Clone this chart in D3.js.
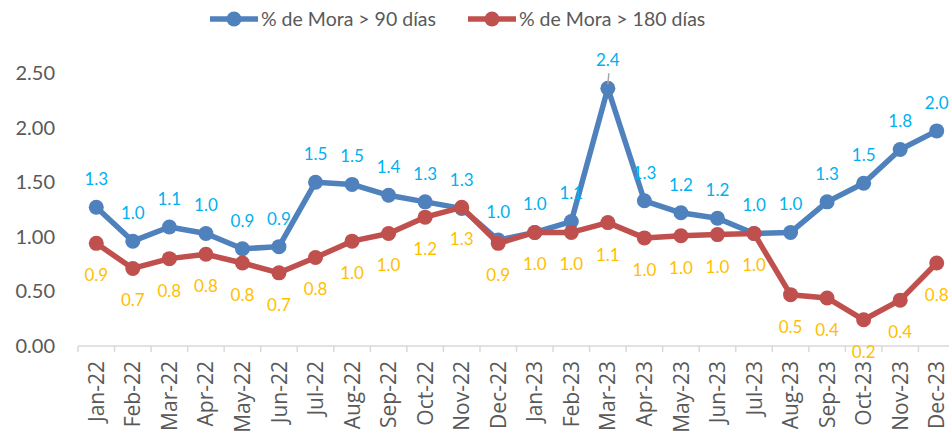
<!DOCTYPE html>
<html>
<head>
<meta charset="utf-8">
<script src="https://cdn.jsdelivr.net/npm/d3@7/dist/d3.min.js"></script>
<style>
  html, body { margin: 0; padding: 0; background: #fff; }
  svg { display: block; }
</style>
</head>
<body>
<svg id="chart" width="949" height="435"></svg>
<script>
const categories = ["Jan-22","Feb-22","Mar-22","Apr-22","May-22","Jun-22","Jul-22","Aug-22","Sep-22","Oct-22","Nov-22","Dec-22",
                    "Jan-23","Feb-23","Mar-23","Apr-23","May-23","Jun-23","Jul-23","Aug-23","Sep-23","Oct-23","Nov-23","Dec-23"];
const mora90  = [1.27,0.96,1.09,1.03,0.89,0.91,1.50,1.48,1.38,1.32,1.26,0.97,
                 1.04,1.14,2.36,1.33,1.22,1.17,1.03,1.04,1.32,1.49,1.80,1.97];
const mora180 = [0.94,0.71,0.80,0.84,0.76,0.67,0.81,0.96,1.03,1.18,1.27,0.94,
                 1.04,1.04,1.13,0.99,1.01,1.02,1.03,0.47,0.44,0.24,0.42,0.76];
const yTicks = [0, 0.5, 1.0, 1.5, 2.0, 2.5];
const seriesNames = ["% de Mora > 90 días", "% de Mora > 180 días"];

const svg = d3.select("#chart");
const x = d3.scaleBand().domain(categories).range([78, 955]);
const y = d3.scaleLinear().domain([0, 2.5]).range([346, 73]);
const cx = d => x(d) + x.bandwidth() / 2;

const blue = "#4F81BD", red = "#C0504D";
const blueLbl = "#00B0F0", redLbl = "#FFC000";
const fmt = d3.format(".1f");

// Y axis labels
svg.append("g").selectAll("text").data(yTicks).join("text")
  .attr("x", 55).attr("y", d => y(d)).attr("dy", "0.35em")
  .attr("text-anchor", "end")
  .attr("font-family", "Lato, 'Open Sans', sans-serif").attr("font-size", 20)
  .attr("fill", "#595959").text(d => d.toFixed(2));

// X axis line and ticks
const axisG = svg.append("g");
axisG.append("line").attr("x1", x.range()[0]).attr("x2", x.range()[1])
  .attr("y1", y(0)).attr("y2", y(0)).attr("stroke", "#D9D9D9").attr("stroke-width", 1.5);
axisG.selectAll("line.tick").data(categories).join("line").attr("class", "tick")
  .attr("x1", d => x(d)).attr("x2", d => x(d))
  .attr("y1", y(0)).attr("y2", y(0) + 6).attr("stroke", "#D9D9D9").attr("stroke-width", 1.5);
axisG.selectAll("text").data(categories).join("text")
  .attr("transform", d => `translate(${cx(d)},${y(0) + 15}) rotate(-90)`)
  .attr("text-anchor", "end").attr("dy", "0.36em")
  .attr("font-family", "'Open Sans', sans-serif").attr("font-size", 21)
  .attr("fill", "#595959").text(d => d);

function drawSeries(vals, color) {
  const line = d3.line().x((d, i) => cx(categories[i])).y(d => y(d));
  svg.append("path").datum(vals).attr("d", line)
    .attr("fill", "none").attr("stroke", color).attr("stroke-width", 5.5)
    .attr("stroke-linejoin", "round");
  svg.append("g").selectAll("circle").data(vals).join("circle")
    .attr("cx", (d, i) => cx(categories[i])).attr("cy", d => y(d))
    .attr("r", 7.5).attr("fill", color);
}
drawSeries(mora90, blue);
drawSeries(mora180, red);

// leader line for peak label
const peakIdx = mora90.indexOf(d3.max(mora90));
svg.append("line").attr("x1", cx(categories[peakIdx])).attr("x2", cx(categories[peakIdx]) + 1)
  .attr("y1", y(mora90[peakIdx]) - 4).attr("y2", y(mora90[peakIdx]) - 15)
  .attr("stroke", "#A6A6A6").attr("stroke-width", 1.5);

// data labels
svg.append("g").selectAll("text").data(mora90).join("text")
  .attr("x", (d, i) => cx(categories[i])).attr("y", d => y(d) - 28).attr("dy", "0.35em")
  .attr("text-anchor", "middle").attr("font-family", "Lato, sans-serif").attr("font-size", 17)
  .attr("fill", blueLbl).text(d => fmt(d));
svg.append("g").selectAll("text").data(mora180).join("text")
  .attr("x", (d, i) => cx(categories[i])).attr("y", d => y(d) + 32).attr("dy", "0.35em")
  .attr("text-anchor", "middle").attr("font-family", "Lato, sans-serif").attr("font-size", 17)
  .attr("fill", redLbl).text(d => fmt(d));

// legend
const legend = svg.append("g");
const legItems = [{name: seriesNames[0], color: blue, x: 210}, {name: seriesNames[1], color: red, x: 468}];
legItems.forEach(it => {
  const g = legend.append("g").attr("transform", `translate(${it.x},19)`);
  g.append("line").attr("x1", 0).attr("x2", 48).attr("stroke", it.color).attr("stroke-width", 5.5);
  g.append("circle").attr("cx", 24).attr("r", 7.5).attr("fill", it.color);
  g.append("text").attr("x", 51).attr("dy", "0.35em")
    .attr("font-family", "Lato, sans-serif").attr("font-size", 19.5)
    .attr("fill", "#595959").text(it.name);
});
</script>
</body>
</html>
